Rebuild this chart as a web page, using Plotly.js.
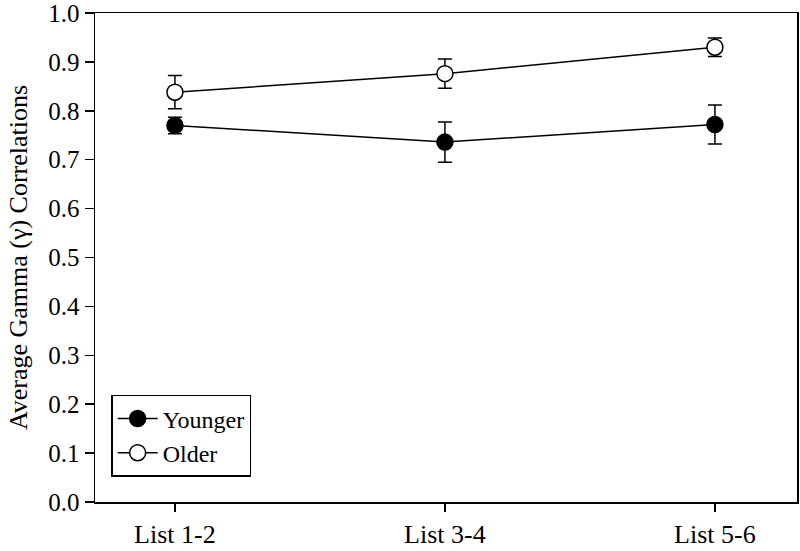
<!DOCTYPE html>
<html>
<head>
<meta charset="utf-8">
<script src="https://cdn.plot.ly/plotly-3.0.1.min.js"></script>
<style>body{margin:0;background:#fff;}#chart{width:800px;height:551px;}</style>
</head>
<body>
<div id="chart"></div>
<script>
const categories = ["List 1-2", "List 3-4", "List 5-6"];
const youngerMean = [0.770, 0.736, 0.772];
const youngerErr = [0.017, 0.041, 0.040];
const olderMean = [0.838, 0.876, 0.930];
const olderErr = [0.034, 0.030, 0.019];
const yTicks = [0.0, 0.1, 0.2, 0.3, 0.4, 0.5, 0.6, 0.7, 0.8, 0.9, 1.0];

const xIdx = categories.map((c, i) => i);
const font = {family: "Liberation Serif, Times New Roman, serif", color: "#000"};

const traces = [
  {
    x: xIdx, y: youngerMean, name: "Younger", type: "scatter", mode: "lines+markers",
    line: {color: "#000", width: 1.5},
    marker: {symbol: "circle", size: 16, color: "#000", line: {color: "#000", width: 1.5}},
    error_y: {type: "data", array: youngerErr, visible: true, color: "#000", thickness: 1.5, width: 7}
  },
  {
    x: xIdx, y: olderMean, name: "Older", type: "scatter", mode: "lines+markers",
    line: {color: "#000", width: 1.5},
    marker: {symbol: "circle", size: 16, color: "#fff", line: {color: "#000", width: 1.5}},
    error_y: {type: "data", array: olderErr, visible: true, color: "#000", thickness: 1.5, width: 7}
  }
];

const layout = {
  width: 800, height: 551,
  margin: {l: 95, r: 3, t: 13, b: 49},
  paper_bgcolor: "#fff", plot_bgcolor: "#fff",
  font: Object.assign({size: 24}, font),
  showlegend: true,
  legend: {
    x: 0.023, y: 0.219, xanchor: "left", yanchor: "top",
    bordercolor: "#000", borderwidth: 1.5, bgcolor: "#fff",
    font: Object.assign({size: 24}, font),
    itemwidth: 40
  },
  xaxis: {
    range: [-0.296, 2.304],
    tickmode: "array", tickvals: xIdx, ticktext: categories,
    ticks: "outside", ticklen: 8, tickwidth: 1.5, tickcolor: "#000",
    showline: true, linecolor: "#000", linewidth: 1.5, mirror: true,
    showgrid: false, zeroline: false,
    tickfont: Object.assign({size: 26}, font)
  },
  yaxis: {
    range: [0, 1.0],
    tickmode: "array", tickvals: yTicks, ticktext: yTicks.map(v => v.toFixed(1)),
    ticks: "outside", ticklen: 9, tickwidth: 1.5, tickcolor: "#000",
    ticklabeloverflow: "allow",
    showline: true, linecolor: "#000", linewidth: 1.5, mirror: true,
    showgrid: false, zeroline: false,
    tickfont: Object.assign({size: 25}, font),
    title: {text: "Average Gamma (γ) Correlations", font: Object.assign({size: 26}, font), standoff: 13}
  }
};

Plotly.newPlot("chart", traces, layout, {displayModeBar: false, staticPlot: true});
</script>
</body>
</html>
